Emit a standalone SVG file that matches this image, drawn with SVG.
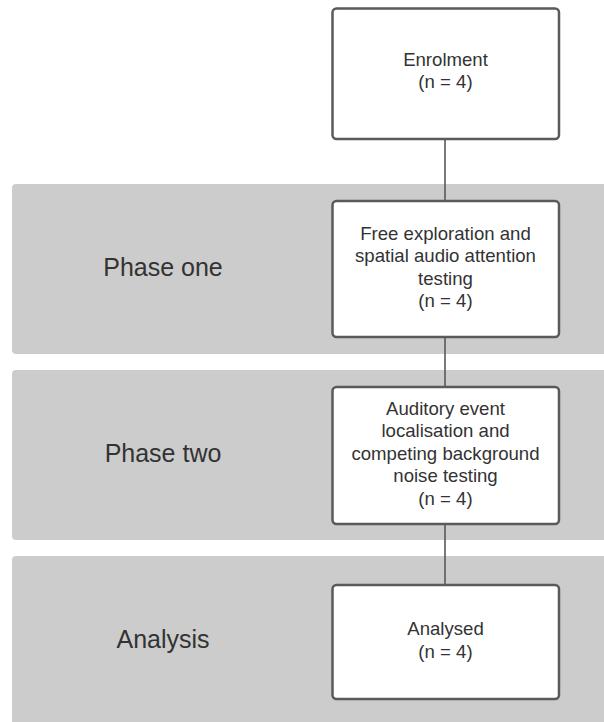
<svg xmlns="http://www.w3.org/2000/svg" width="604" height="722" viewBox="0 0 604 722">
  <style>
    .band { fill: #cccccc; }
    .box { fill: #ffffff; stroke: #5a5a5a; stroke-width: 2.5; }
    .link { stroke: #595959; stroke-width: 1.6; fill: none; }
    .lbl { font-family: "Liberation Sans", Arial, sans-serif; font-size: 18.6px; fill: #333333; text-anchor: middle; }
    .phase { font-family: "Liberation Sans", Arial, sans-serif; font-size: 25px; fill: #333333; text-anchor: middle; }
  </style>
  <rect width="604" height="722" fill="#ffffff"/>

  <!-- phase bands -->
  <g id="band-phase-one">
    <rect class="band" x="12" y="184" width="600" height="170" rx="4"/>
    <text class="phase" x="163" y="276">Phase one</text>
  </g>
  <g id="band-phase-two">
    <rect class="band" x="12" y="370" width="600" height="170" rx="4"/>
    <text class="phase" x="163" y="462">Phase two</text>
  </g>
  <g id="band-analysis">
    <rect class="band" x="12" y="556" width="600" height="172" rx="4"/>
    <text class="phase" x="163" y="648">Analysis</text>
  </g>

  <!-- connectors -->
  <g id="connectors">
    <line class="link" x1="445" y1="139" x2="445" y2="201"/>
    <line class="link" x1="445" y1="337" x2="445" y2="387"/>
    <line class="link" x1="445" y1="524" x2="445" y2="585"/>
  </g>

  <!-- flow boxes -->
  <g id="enrolment">
    <rect class="box" x="332.5" y="8.5" width="226.5" height="130.5" rx="4"/>
    <text class="lbl" x="445.5" y="66">Enrolment</text>
    <text class="lbl" x="445.5" y="88">(n = 4)</text>
  </g>
  <g id="phase-one-step">
    <rect class="box" x="332.5" y="201" width="226.5" height="136" rx="4"/>
    <text class="lbl" x="445.5" y="239.5">Free exploration and</text>
    <text class="lbl" x="445.5" y="262">spatial audio attention</text>
    <text class="lbl" x="445.5" y="284.5">testing</text>
    <text class="lbl" x="445.5" y="307">(n = 4)</text>
  </g>
  <g id="phase-two-step">
    <rect class="box" x="332.5" y="387" width="226.5" height="137" rx="4"/>
    <text class="lbl" x="445.5" y="414.5">Auditory event</text>
    <text class="lbl" x="445.5" y="437">localisation and</text>
    <text class="lbl" x="445.5" y="459.5">competing background</text>
    <text class="lbl" x="445.5" y="482">noise testing</text>
    <text class="lbl" x="445.5" y="504.5">(n = 4)</text>
  </g>
  <g id="analysed">
    <rect class="box" x="332.5" y="585" width="226.5" height="114" rx="4"/>
    <text class="lbl" x="445.5" y="635">Analysed</text>
    <text class="lbl" x="445.5" y="657.5">(n = 4)</text>
  </g>
</svg>
